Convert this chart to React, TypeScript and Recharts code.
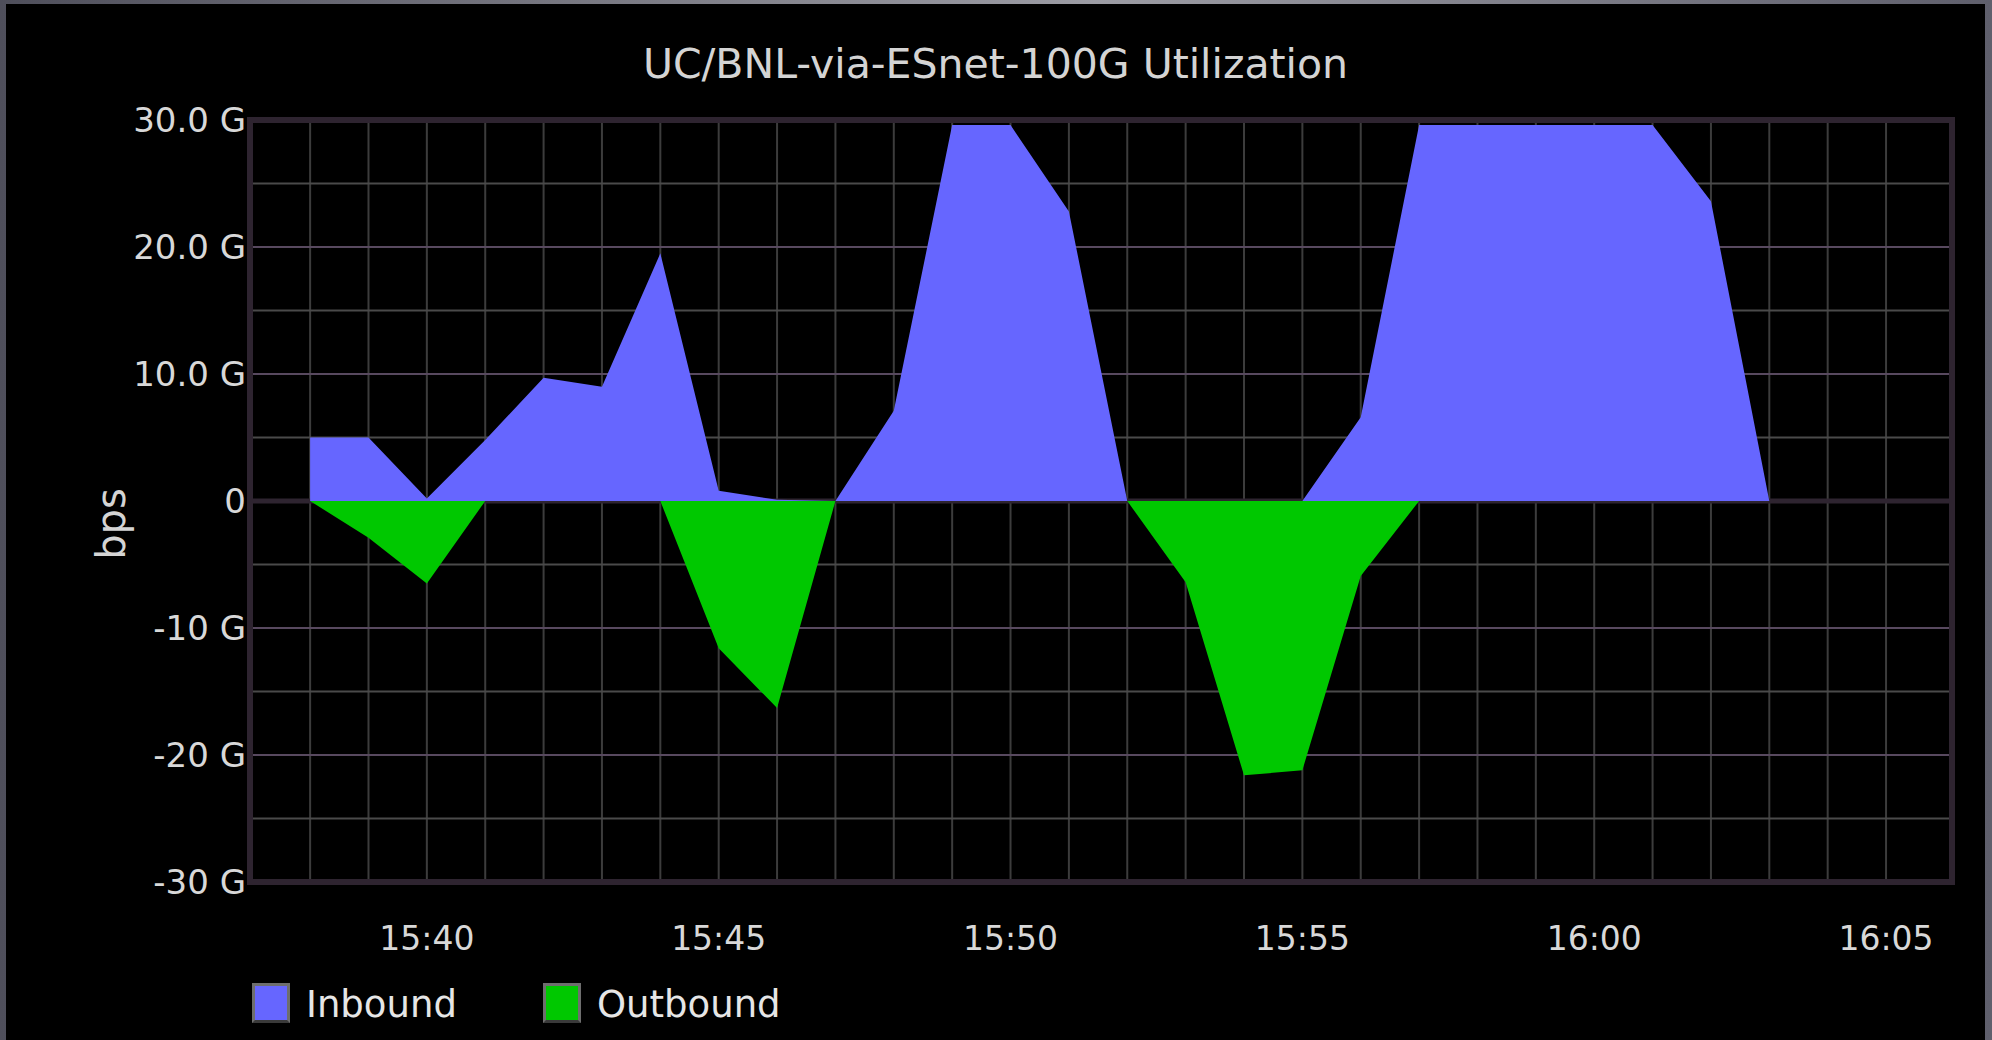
import { AreaChart, Area, XAxis, YAxis, CartesianGrid, ReferenceArea } from 'recharts';

// minutes after 15:00, one sample per minute
const minutes = [38, 39, 40, 41, 42, 43, 44, 45, 46, 47, 48, 49, 50, 51, 52, 53, 54, 55, 56, 57, 58, 59, 60, 61, 62, 63];
// Gbps
const inbound = [5.0, 5.0, 0.2, 4.8, 9.7, 9.0, 19.5, 0.8, 0.1, 0, 7.1, 29.6, 29.6, 22.8, 0, 0, 0, 0, 6.6, 29.6, 29.6, 29.6, 29.6, 29.6, 23.6, 0];
const outbound = [0, -2.9, -6.5, 0, 0, 0, 0, -11.6, -16.3, 0, 0, 0, 0, 0, 0, -6.4, -21.6, -21.2, -5.9, 0, 0, 0, 0, 0, 0, 0];

const xTicks = [40, 45, 50, 55, 60, 65];
const xTickLabels = ['15:40', '15:45', '15:50', '15:55', '16:00', '16:05'];
const minuteGrid = [38, 39, 40, 41, 42, 43, 44, 45, 46, 47, 48, 49, 50, 51, 52, 53, 54, 55, 56, 57, 58, 59, 60, 61, 62, 63, 64, 65];
const xDomain = [36.97, 66.13];

const yTicks = [-30, -20, -10, 0, 10, 20, 30];
const yTickLabels = ['-30 G', '-20 G', '-10 G', '0', '10.0 G', '20.0 G', '30.0 G'];
const yHalfGrid = [25, 15, 5, -5, -15, -25];
const yMajorGrid = [20, 10, -10, -20];

const seriesNames = ['Inbound', 'Outbound'];
const seriesColors = ['#6666ff', '#00c800'];

const font = '"DejaVu Sans", sans-serif';

const data = minutes.map((m, i) => ({ minute: m, inbound: inbound[i], outbound: outbound[i] }));

export default function App() {
  return (
    <div
      style={{
        position: 'fixed',
        left: 0,
        top: 0,
        width: 1992,
        height: 1040,
        overflow: 'hidden',
        background: 'linear-gradient(90deg, #4f4f5b 0%, #9c9ca4 55%, #5f5f6c 100%)',
        fontFamily: font,
      }}
    >
      <div style={{ position: 'absolute', left: 6, top: 4, width: 1979, height: 1040, background: '#000' }} />

      <div
        style={{
          position: 'absolute',
          left: 6,
          width: 1979,
          top: 44,
          fontSize: 41,
          lineHeight: '41px',
          textAlign: 'center',
          color: '#d4d4d4',
        }}
      >
        UC/BNL-via-ESnet-100G Utilization
      </div>

      <div
        style={{
          position: 'absolute',
          left: 111,
          top: 524,
          fontSize: 40,
          lineHeight: '40px',
          color: '#d4d4d4',
          transform: 'translate(-50%, -50%) rotate(-90deg)',
          whiteSpace: 'nowrap',
        }}
      >
        bps
      </div>

      <div style={{ position: 'absolute', left: 0, top: 0 }}>
        <AreaChart width={1992} height={1040} data={data} margin={{ top: 120, right: 40, bottom: 98, left: 0 }}>
          <CartesianGrid horizontal={false} verticalValues={minuteGrid} stroke="#3c3c3c" strokeWidth={2} />
          <CartesianGrid vertical={false} horizontalValues={yHalfGrid} stroke="#4a4a4a" strokeWidth={2} />
          <CartesianGrid vertical={false} horizontalValues={yMajorGrid} stroke="#58495f" strokeWidth={2} />
          <CartesianGrid vertical={false} horizontalValues={[0]} stroke="#2e2430" strokeWidth={5} />
          <XAxis
            dataKey="minute"
            type="number"
            domain={xDomain}
            allowDataOverflow
            ticks={xTicks}
            interval={0}
            tickFormatter={(v: number) => xTickLabels[xTicks.indexOf(v)] ?? ''}
            axisLine={false}
            tickLine={false}
            tickSize={0}
            tickMargin={45}
            height={60}
            tick={{ fill: '#d8d8d8', fontSize: 33, fontFamily: font }}
          />
          <YAxis
            type="number"
            domain={[-30, 30]}
            ticks={yTicks}
            interval={0}
            tickFormatter={(v: number) => yTickLabels[yTicks.indexOf(v)] ?? ''}
            axisLine={false}
            tickLine={false}
            tickSize={0}
            tickMargin={4}
            width={250}
            tick={{ fill: '#d8d8d8', fontSize: 34, fontFamily: font }}
          />
          <Area
            type="linear"
            dataKey="inbound"
            name={seriesNames[0]}
            baseValue={0}
            stroke="none"
            fill={seriesColors[0]}
            fillOpacity={1}
            dot={false}
            activeDot={false}
            isAnimationActive={false}
          />
          <Area
            type="linear"
            dataKey="outbound"
            name={seriesNames[1]}
            baseValue={0}
            stroke="none"
            fill={seriesColors[1]}
            fillOpacity={1}
            dot={false}
            activeDot={false}
            isAnimationActive={false}
          />
          <ReferenceArea
            x1={xDomain[0]}
            x2={xDomain[1]}
            y1={-30}
            y2={30}
            fill="none"
            stroke="#2e2430"
            strokeWidth={6}
            ifOverflow="visible"
          />
        </AreaChart>
      </div>

      {seriesNames.map((name, i) => (
        <div key={name} style={{ position: 'absolute', left: [252, 543][i], top: 983, display: 'flex' }}>
          <div
            style={{
              width: 32,
              height: 34,
              background: seriesColors[i],
              border: '3px solid #6e6e6e',
              borderBottomColor: '#3a3a3a',
            }}
          />
          <div style={{ marginLeft: 16, marginTop: 4, fontSize: 37, lineHeight: '36px', color: '#e6e6e6' }}>{name}</div>
        </div>
      ))}
    </div>
  );
}
